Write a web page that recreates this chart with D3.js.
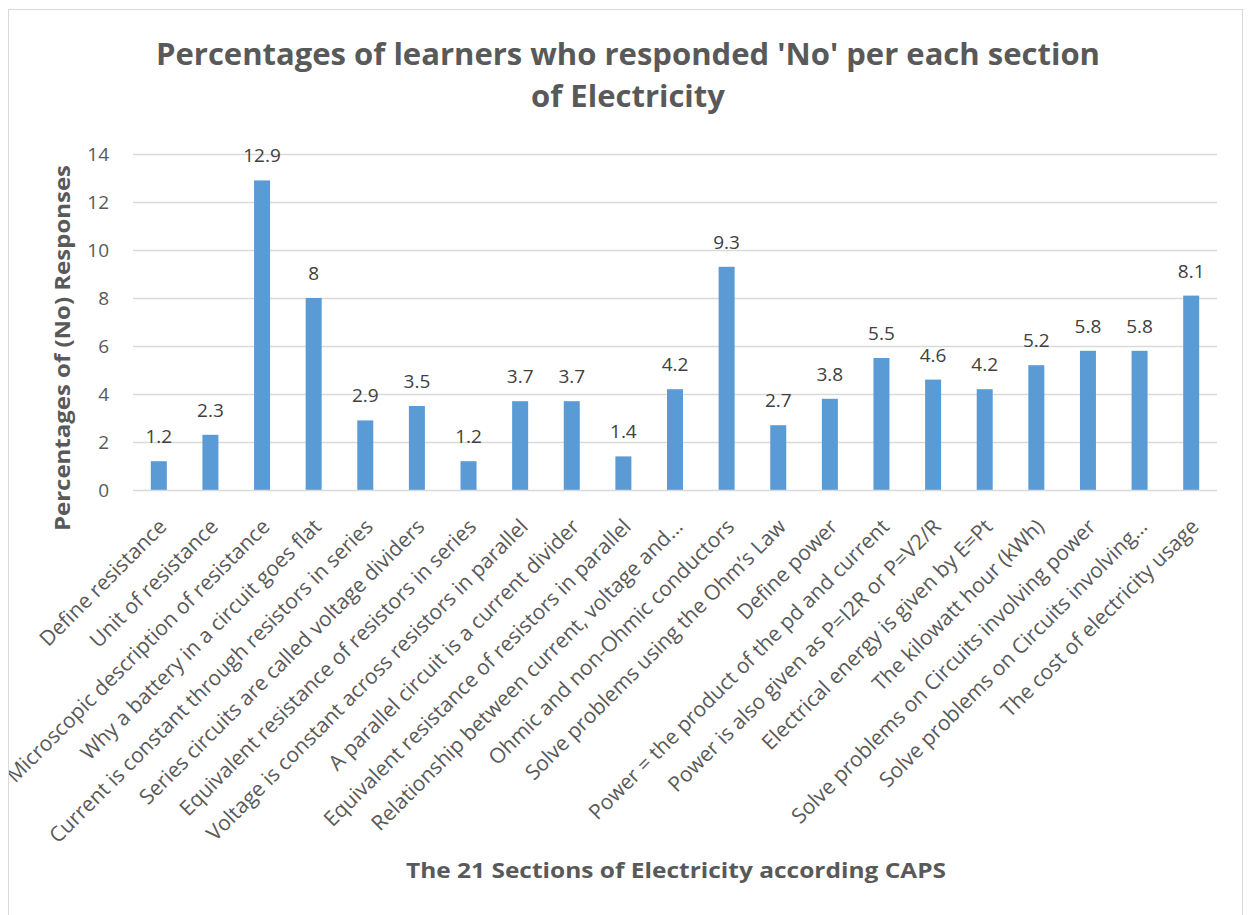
<!DOCTYPE html>
<html><head><meta charset="utf-8">
<script src="https://cdn.jsdelivr.net/npm/d3@7"></script>
<style>html,body{margin:0;padding:0;background:#fff;}svg{display:block;}</style>
</head><body>
<svg id="chart" width="1248" height="915"></svg>
<script>
const categories = [
  "Define resistance",
  "Unit of resistance",
  "Microscopic description of resistance",
  "Why a battery in a circuit goes flat",
  "Current is constant through resistors in series",
  "Series circuits are called voltage dividers",
  "Equivalent resistance of resistors in series",
  "Voltage is constant across resistors in parallel",
  "A parallel circuit is a current divider",
  "Equivalent resistance of resistors in parallel",
  "Relationship between current, voltage and…",
  "Ohmic and non-Ohmic conductors",
  "Solve problems using the Ohm’s Law",
  "Define power",
  "Power = the product of the pd and current",
  "Power is also given as P=I2R or P=V2/R",
  "Electrical energy is given by E=Pt",
  "The kilowatt hour (kWh)",
  "Solve problems on Circuits involving power",
  "Solve problems on Circuits involving…",
  "The cost of electricity usage"
];
const values = [1.2, 2.3, 12.9, 8, 2.9, 3.5, 1.2, 3.7, 3.7, 1.4, 4.2, 9.3, 2.7, 3.8, 5.5, 4.6, 4.2, 5.2, 5.8, 5.8, 8.1];
const yTicks = [0, 2, 4, 6, 8, 10, 12, 14];
const titleLines = ["Percentages of learners who responded 'No' per each section", "of Electricity"];
const yTitle = "Percentages of (No) Responses";
const xTitle = "The 21 Sections of Electricity according CAPS";

(function () {
const svg = d3.select("#chart");
const font = "'Open Sans', 'DejaVu Sans', sans-serif";

svg.append("defs").append("clipPath").attr("id", "frame")
  .append("rect").attr("x", 8.5).attr("y", 9.5).attr("width", 1234).attr("height", 910);

const root = svg.append("g").attr("clip-path", "url(#frame)");

svg.append("rect").attr("x", 8.5).attr("y", 9.5).attr("width", 1234).attr("height", 920)
  .attr("fill", "none").attr("stroke", "#d9d9d9").attr("stroke-width", 1);

const pl = 133, pr = 1217, pt = 154, pb = 490;
const x = d3.scaleBand().domain(categories).range([pl, pr]).paddingInner(0.69).paddingOuter(0.345);
const y = d3.scaleLinear().domain([0, 14]).range([pb, pt]);

root.append("g").selectAll("line").data(yTicks.filter(d => d > 0)).join("line")
  .attr("x1", pl).attr("x2", pr)
  .attr("y1", d => y(d) + 0.5).attr("y2", d => y(d) + 0.5)
  .attr("stroke", "#d9d9d9").attr("stroke-width", 1.3);

const yAxis = d3.axisLeft(y).tickValues(yTicks).tickSize(0).tickPadding(0);
const yg = root.append("g").attr("transform", `translate(${pl - 24},0)`).call(yAxis);
yg.select(".domain").remove();
yg.selectAll("text").attr("font-family", font).attr("font-size", 19).attr("fill", "#595959")
  .attr("dy", "0.36em");

root.append("g").selectAll("rect").data(values).join("rect")
  .attr("x", (d, i) => x(categories[i]))
  .attr("width", x.bandwidth())
  .attr("y", d => y(d))
  .attr("height", d => y(0) - y(d))
  .attr("fill", "#5b9bd5");

root.append("line").attr("x1", pl).attr("x2", pr)
  .attr("y1", pb + 0.5).attr("y2", pb + 0.5)
  .attr("stroke", "#d9d9d9").attr("stroke-width", 1.5);

root.append("g").selectAll("text").data(values).join("text")
  .attr("x", (d, i) => x(categories[i]) + x.bandwidth() / 2)
  .attr("y", d => y(d) - 18)
  .attr("text-anchor", "middle")
  .attr("font-family", font).attr("font-size", 19).attr("fill", "#404040")
  .text(d => d);

const xAxis = d3.axisBottom(x).tickSize(0).tickPadding(0);
const xg = root.append("g").attr("transform", `translate(0,${pb})`).call(xAxis);
xg.select(".domain").remove();
xg.selectAll(".tick text")
  .attr("font-family", font).attr("font-size", 21).attr("fill", "#595959")
  .attr("text-anchor", "end")
  .attr("dy", 0).attr("y", 0)
  .attr("transform", "translate(9,38) rotate(-45)");

root.append("g").selectAll("text").data(titleLines).join("text")
  .attr("x", 628).attr("y", (d, i) => 65 + i * 42)
  .attr("text-anchor", "middle")
  .attr("font-family", font).attr("font-weight", "bold").attr("font-size", 31)
  .attr("fill", "#595959")
  .attr("textLength", (d, i) => i === 0 ? 944 : null)
  .attr("lengthAdjust", "spacingAndGlyphs")
  .text(d => d);

root.append("text")
  .attr("transform", "translate(70,348) rotate(-90)")
  .attr("text-anchor", "middle")
  .attr("font-family", font).attr("font-weight", "bold").attr("font-size", 22)
  .attr("fill", "#595959")
  .attr("textLength", 366).attr("lengthAdjust", "spacingAndGlyphs")
  .text(yTitle);

root.append("text")
  .attr("x", 676).attr("y", 878)
  .attr("text-anchor", "middle")
  .attr("font-family", font).attr("font-weight", "bold").attr("font-size", 22)
  .attr("fill", "#595959")
  .attr("textLength", 540).attr("lengthAdjust", "spacingAndGlyphs")
  .text(xTitle);
})();
</script>
</body></html>
